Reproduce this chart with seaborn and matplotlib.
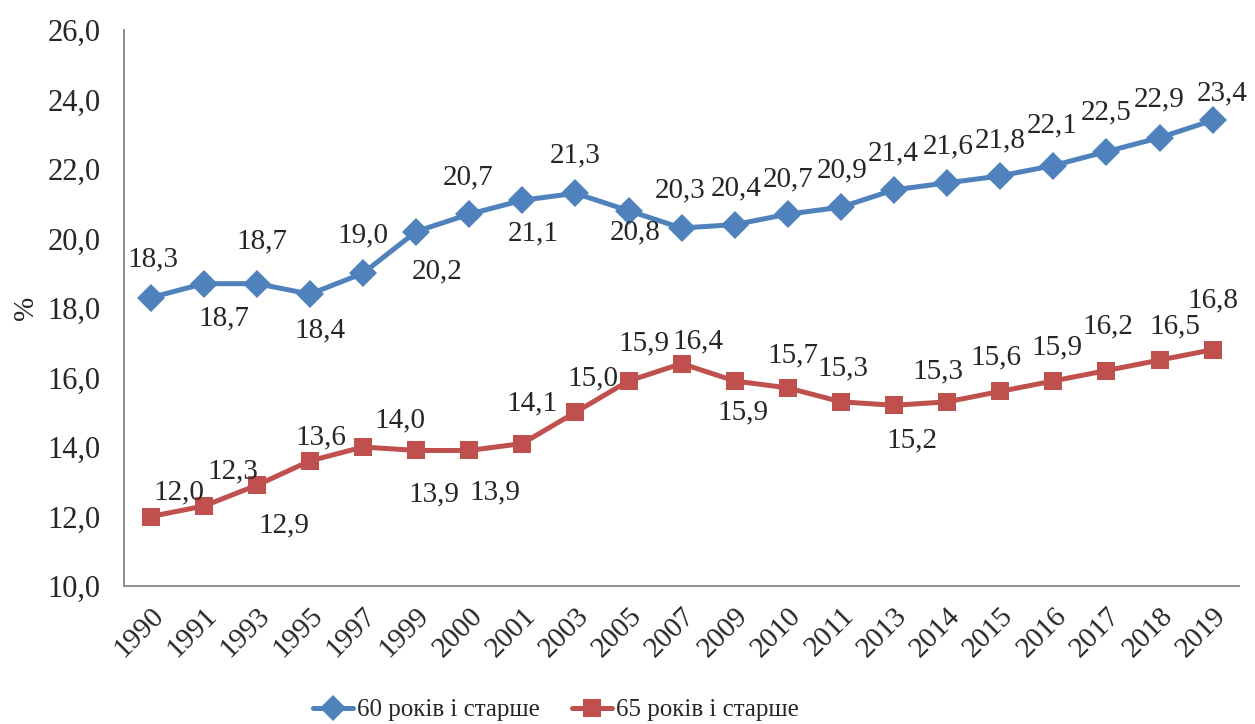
import pandas as pd
import matplotlib
matplotlib.use("Agg")
import matplotlib.pyplot as plt
import seaborn as sns

years = ["1990", "1991", "1993", "1995", "1997", "1999", "2000", "2001", "2003", "2005",
         "2007", "2009", "2010", "2011", "2013", "2014", "2015", "2016", "2017", "2018", "2019"]
age60 = [18.3, 18.7, 18.7, 18.4, 19.0, 20.2, 20.7, 21.1, 21.3, 20.8,
         20.3, 20.4, 20.7, 20.9, 21.4, 21.6, 21.8, 22.1, 22.5, 22.9, 23.4]
age65 = [12.0, 12.3, 12.9, 13.6, 14.0, 13.9, 13.9, 14.1, 15.0, 15.9,
         16.4, 15.9, 15.7, 15.3, 15.2, 15.3, 15.6, 15.9, 16.2, 16.5, 16.8]
name60 = "60 років і старше"
name65 = "65 років і старше"

# label offsets in pixels (dx, dy down), like the Excel placement
off60 = [(2, -38), (20, 35), (5, -42), (10, 36), (0, -38), (21, 40), (-1, -37), (11, 33),
         (0, -38), (7, 22), (-2, -38), (1, -36), (0, -35), (1, -37), (-1, -36), (1, -37),
         (0, -36), (-1, -40), (0, -39), (0, -38), (10, -27)]
off65 = [(28, -24), (29, -35), (27, 40), (11, -24), (37, -27), (18, 44), (26, 42), (10, -40),
         (17, -34), (15, -38), (16, -22), (8, 31), (5, -33), (2, -33), (18, 35), (-9, -30),
         (-4, -34), (4, -34), (1, -44), (15, -34), (0, -49)]

blue = "#4F81BD"
red = "#C0504D"

df = pd.DataFrame({"year": years * 2,
                   "value": age60 + age65,
                   "group": [name60] * len(years) + [name65] * len(years)})

sns.set_style("white")
plt.rcParams["font.family"] = ["Liberation Serif", "DejaVu Serif"]

fig = plt.figure(figsize=(12.55, 7.24), dpi=100)
ax = fig.add_axes([0.0989, 0.1906, 0.8885, 0.768])

sns.lineplot(data=df, x="year", y="value", hue="group", style="group",
             palette={name60: blue, name65: red},
             markers={name60: "D", name65: "s"}, dashes=False,
             markersize=13, markeredgewidth=0, linewidth=3.6, sort=False, ax=ax)
for ln, ms in zip(ax.lines, [14, 13]):
    ln.set_markersize(ms)

for vals, offs in [(age60, off60), (age65, off65)]:
    for i, (v, (dx, dy)) in enumerate(zip(vals, offs)):
        ax.annotate(f"{v:.1f}".replace(".", ","), xy=(i, v), xytext=(dx, -dy),
                    textcoords="offset pixels", ha="center", va="center", fontsize=21)

ax.set_xlim(-0.5, len(years) - 0.5)
ax.set_ylim(10, 26)
yt = [10, 12, 14, 16, 18, 20, 22, 24, 26]
ax.set_yticks(yt)
ax.set_yticklabels([f"{t:.1f}".replace(".", ",") for t in yt], fontsize=22)
ax.set_xticks(range(len(years)))
ax.set_xticklabels(years, fontsize=21, rotation=45, ha="right", rotation_mode="anchor")
ax.tick_params(axis="y", length=0, pad=17)
ax.tick_params(axis="x", length=0, pad=12)
ax.set_xlabel("")
ax.set_ylabel("%", fontsize=21, labelpad=6)

for s in ["top", "right"]:
    ax.spines[s].set_visible(False)
for s in ["left", "bottom"]:
    ax.spines[s].set_color("#868686")
    ax.spines[s].set_linewidth(1.3)

handles, labels = ax.get_legend_handles_labels()
ax.legend(handles, labels, loc="center", bbox_to_anchor=(0.443, 0.019),
          bbox_transform=fig.transFigure, ncol=2, frameon=False, fontsize=18,
          handlelength=1.6, handletextpad=0.16, columnspacing=1.28)

fig.savefig("out.png", dpi=100)
